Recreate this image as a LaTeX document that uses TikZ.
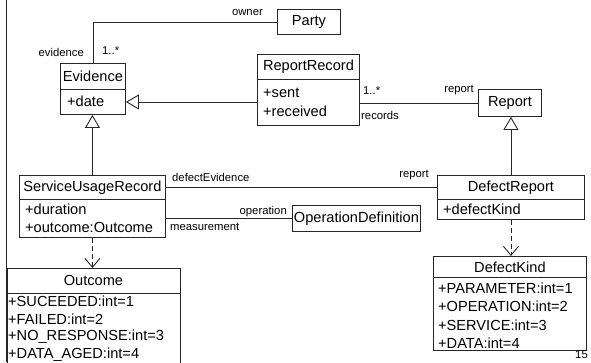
\documentclass[tikz,border=0pt]{standalone}
\usepackage{fontspec}
\setmainfont{Liberation Sans}
\usetikzlibrary{arrows.meta}

\begin{document}
\begin{tikzpicture}[x=1pt, y=-1pt,
  linec/.style={draw=black!85},
  box/.style={linec, line width=0.9pt, inner sep=0pt, anchor=north west, fill=white},
  ttl/.style={inner sep=0pt, font=\fontsize{14.6}{16}\selectfont},
  attr/.style={inner sep=0pt, anchor=west, font=\fontsize{14.6}{16}\selectfont},
  role/.style={inner sep=0pt, font=\fontsize{11.3}{13}\selectfont},
  assoc/.style={linec, line width=0.9pt},
  gen/.style={linec, line width=0.9pt, -{Triangle[open, length=13pt, width=15pt]}},
  dep/.style={linec, line width=0.9pt, dash pattern=on 5pt off 3pt, -{Straight Barb[length=9pt, width=15pt]}}
]
\useasboundingbox (0,0) rectangle (591,362);
\clip (0,0) rectangle (591,362);

% page margin rule
\draw[linec, line width=0.9pt] (6.5,0) -- (6.5,362);

% ---- classes ----
% Party
\node[box, minimum width=63pt, minimum height=25pt] (party) at (277,9) {};
\node[ttl] at (party.center) {Party};

% Evidence
\node[box, minimum width=65pt, minimum height=26pt] (ev) at (60,63) {};
\node[ttl] at (ev.center) {Evidence};
\node[box, minimum width=65pt, minimum height=25pt] (evattr) at (60,89) {};
\node[attr] at (67,101.5) {+date};

% ReportRecord
\node[box, minimum width=102pt, minimum height=25pt] (rr) at (257,54) {};
\node[ttl] at (rr.center) {ReportRecord};
\node[box, minimum width=102pt, minimum height=46pt] (rrattr) at (257,79) {};
\node[attr] at (263,93) {+sent};
\node[attr] at (263,111) {+received};

% Report
\node[box, minimum width=63pt, minimum height=27pt] (report) at (478,89) {};
\node[ttl] at (report.center) {Report};

% ServiceUsageRecord
\node[box, minimum width=146pt, minimum height=24pt] (sur) at (19,175) {};
\node[ttl] at (sur.center) {ServiceUsageRecord};
\node[box, minimum width=146pt, minimum height=38pt] (surattr) at (19,199) {};
\node[attr] at (25,209.5) {+duration};
\node[attr] at (25,227.5) {+outcome:Outcome};

% DefectReport
\node[box, minimum width=147pt, minimum height=24pt] (dr) at (437,175) {};
\node[ttl] at (dr.center) {DefectReport};
\node[box, minimum width=147pt, minimum height=20pt] (drattr) at (437,199) {};
\node[attr] at (443,209) {+defectKind};

% OperationDefinition
\node[box, minimum width=128pt, minimum height=26pt] (opdef) at (292,205) {};
\node[ttl] at (opdef.center) {OperationDefinition};

% Outcome
\node[box, minimum width=173pt, minimum height=25pt] (outcome) at (6.5,268) {};
\node[ttl] at (outcome.center) {Outcome};
\node[box, minimum width=173pt, minimum height=90pt] (outattr) at (6.5,293) {};
\node[attr] at (8,301.5) {+SUCEEDED:int=1};
\node[attr] at (8,319) {+FAILED:int=2};
\node[attr] at (8,337) {+NO\_RESPONSE:int=3};
\node[attr] at (8,355) {+DATA\_AGED:int=4};

% DefectKind
\node[box, minimum width=153pt, minimum height=21pt] (dk) at (433,256) {};
\node[ttl] at (dk.center) {DefectKind};
\node[box, minimum width=153pt, minimum height=73pt] (dkattr) at (433,277) {};
\node[attr] at (438,288) {+PARAMETER:int=1};
\node[attr] at (438,306.5) {+OPERATION:int=2};
\node[attr] at (438,325) {+SERVICE:int=3};
\node[attr] at (438,343) {+DATA:int=4};

% ---- relations ----
% Party -- Evidence
\draw[assoc] (party.west) -| (ev.north);
\node[role, anchor=east] at (263,13) {owner};
\node[role, anchor=east] at (84,52) {evidence};
\node[role, anchor=west] at (102,51) {1..*};

% ReportRecord generalises to Evidence
\draw[gen] (rrattr.west |- evattr.east) -- (evattr.east);

% ReportRecord -- Report
\draw[assoc] (report.west -| rrattr.east) -- (report.west);
\node[role, anchor=west] at (363,91) {1..*};
\node[role, anchor=west] at (361,115) {records};
\node[role, anchor=east] at (474,90) {report};

% inheritance arrows
\draw[gen] (dr.north) -- (dr.north |- report.south);
\draw[gen] (sur.north) -- (sur.north |- evattr.south);

% ServiceUsageRecord -- DefectReport
\draw[assoc] (sur.east) -- (sur.east -| dr.west);
\node[role, anchor=west] at (172,177) {defectEvidence};
\node[role, anchor=east] at (429,175) {report};

% ServiceUsageRecord -- OperationDefinition
\draw[assoc] (opdef.west -| surattr.east) -- (opdef.west);
\node[role, anchor=east] at (287,212) {operation};
\node[role, anchor=west] at (170,227) {measurement};

% dependencies on the enumerations
\draw[dep] (surattr.south) -- (surattr.south |- outcome.north);
\draw[dep] (drattr.south) -- (drattr.south |- dk.north);

% page number
\node[role, anchor=east] at (588,355) {15};
\end{tikzpicture}
\end{document}
